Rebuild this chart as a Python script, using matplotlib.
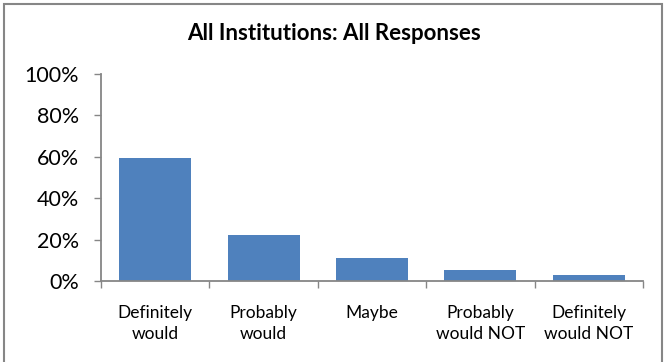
import matplotlib.pyplot as plt
from matplotlib.patches import Rectangle
from matplotlib.ticker import FuncFormatter, FixedLocator
import numpy as np

categories = ["Definitely\nwould", "Probably\nwould", "Maybe", "Probably\nwould NOT", "Definitely\nwould NOT"]
shares = [59.5, 22.0, 11.0, 5.3, 2.7]
y_ticks = [0, 20, 40, 60, 80, 100]

plt.rcParams['font.family'] = ['Lato', 'DejaVu Sans']

fig = plt.figure(figsize=(6.66, 3.62), dpi=100)
ax = fig.add_axes([0.1517, 0.2238, 0.8138, 0.5718])

x = np.arange(len(categories))
ax.bar(x, shares, width=0.665, color="#4F81BD", edgecolor="none", zorder=2)

ax.set_xlim(-0.5, len(categories) - 0.5)
ax.set_ylim(0, 100)
ax.set_yticks(y_ticks)
ax.yaxis.set_major_formatter(FuncFormatter(lambda v, p: "%d%%" % v))
ax.tick_params(axis='y', length=5, width=1, color="#868686", labelsize=15.5, pad=11)

ax.set_xticks(x)
ax.set_xticklabels(categories, fontsize=12.5, linespacing=1.45)
ax.xaxis.set_minor_locator(FixedLocator(np.arange(-0.5, len(categories), 1.0)))
ax.tick_params(axis='x', which='major', length=0, pad=17)
ax.tick_params(axis='x', which='minor', length=5, width=1, color="#868686")

for side in ['top', 'right']:
    ax.spines[side].set_visible(False)
for side in ['left', 'bottom']:
    ax.spines[side].set_color("#868686")
    ax.spines[side].set_linewidth(1.3)

fig.text(0.502, 0.907, "All Institutions: All Responses", ha='center', va='center',
         fontsize=16, fontweight='bold')

# chart area border
fig.patches.append(Rectangle((4 / 666, -0.05), 658 / 666, 1 - 4 / 362 + 0.05, transform=fig.transFigure,
                             fill=False, edgecolor="#868686", linewidth=1.5))

fig.savefig("out.png", dpi=100)
